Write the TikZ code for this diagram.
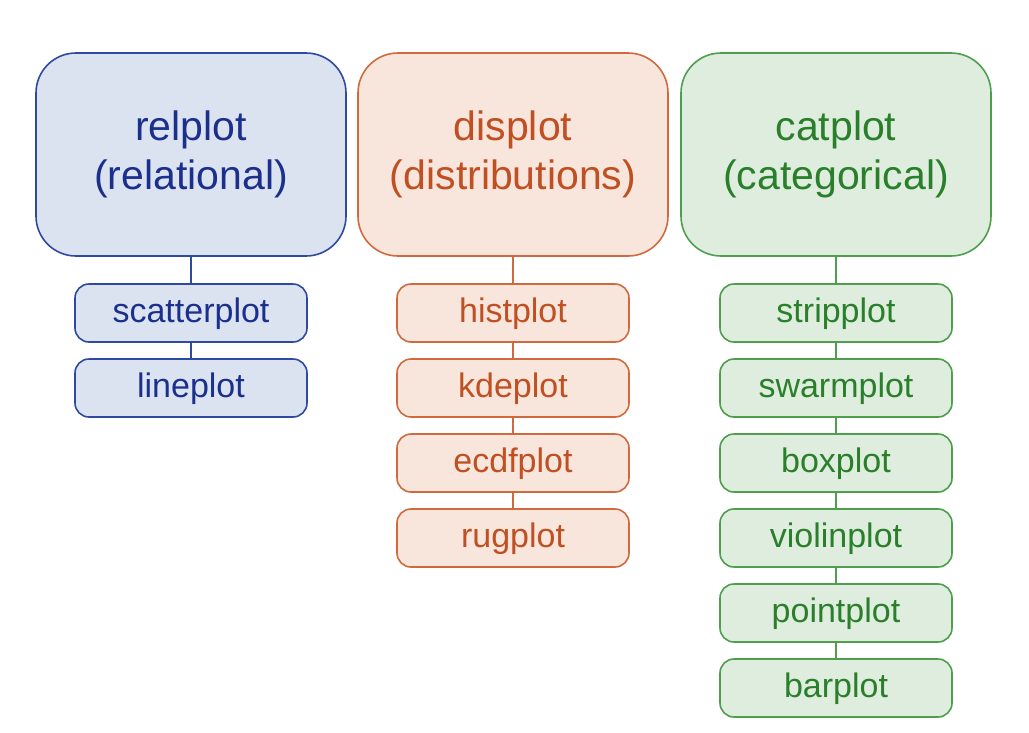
\documentclass[tikz,border=0pt]{standalone}
\usepackage{fontspec}
\setmainfont{Liberation Sans}
\definecolor{bluedraw}{HTML}{2E4A9E}
\definecolor{bluefill}{HTML}{DCE3F0}
\definecolor{bluetext}{HTML}{1B2F8C}
\definecolor{orangedraw}{HTML}{D06A3E}
\definecolor{orangefill}{HTML}{F8E6DD}
\definecolor{orangetext}{HTML}{C04F22}
\definecolor{greendraw}{HTML}{4E9E4E}
\definecolor{greenfill}{HTML}{DFEDDE}
\definecolor{greentext}{HTML}{2A7F2A}
\tikzset{
  bigbox/.style={draw, line width=1.6pt, rounded corners=40pt, minimum width=310pt, minimum height=203pt,
    align=center, font=\fontsize{41}{49}\selectfont, inner sep=0pt},
  smallbox/.style={draw, line width=1.6pt, rounded corners=14pt, minimum width=232pt, minimum height=58pt,
    font=\fontsize{34}{40}\selectfont, inner sep=0pt, text height=25pt, text depth=6pt},
  blue/.style={draw=bluedraw, fill=bluefill, text=bluetext},
  orange/.style={draw=orangedraw, fill=orangefill, text=orangetext},
  green/.style={draw=greendraw, fill=greenfill, text=greentext},
  link/.style={line width=1.6pt},
}
\begin{document}
\begin{tikzpicture}[x=1pt,y=-1pt]
\useasboundingbox (0,0) rectangle (1029,732);
% blue column
\node[bigbox, blue] (rel) at (191,154.5) {\raisebox{-2pt}{relplot}\\\raisebox{-2pt}{(relational)}};
\node[smallbox, blue] (scatter) at (191,313) {scatterplot};
\node[smallbox, blue] (line) at (191,388) {lineplot};
\draw[link, bluedraw] (rel) -- (scatter);
\draw[link, bluedraw] (scatter) -- (line);
% orange column
\node[bigbox, orange] (dis) at (513,154.5) {\raisebox{-2pt}{displot}\\\raisebox{-2pt}{(distributions)}};
\node[smallbox, orange] (hist) at (513,313) {histplot};
\node[smallbox, orange] (kde) at (513,388) {kdeplot};
\node[smallbox, orange] (ecdf) at (513,463) {ecdfplot};
\node[smallbox, orange] (rug) at (513,538) {rugplot};
\draw[link, orangedraw] (dis) -- (hist);
\draw[link, orangedraw] (hist) -- (kde);
\draw[link, orangedraw] (kde) -- (ecdf);
\draw[link, orangedraw] (ecdf) -- (rug);
% green column
\node[bigbox, green] (cat) at (836,154.5) {\raisebox{-2pt}{catplot}\\\raisebox{-2pt}{(categorical)}};
\node[smallbox, green] (strip) at (836,313) {stripplot};
\node[smallbox, green] (swarm) at (836,388) {swarmplot};
\node[smallbox, green] (box) at (836,463) {boxplot};
\node[smallbox, green] (violin) at (836,538) {violinplot};
\node[smallbox, green] (point) at (836,613) {pointplot};
\node[smallbox, green] (bar) at (836,688) {barplot};
\draw[link, greendraw] (cat) -- (strip);
\draw[link, greendraw] (strip) -- (swarm);
\draw[link, greendraw] (swarm) -- (box);
\draw[link, greendraw] (box) -- (violin);
\draw[link, greendraw] (violin) -- (point);
\draw[link, greendraw] (point) -- (bar);
\end{tikzpicture}
\end{document}
